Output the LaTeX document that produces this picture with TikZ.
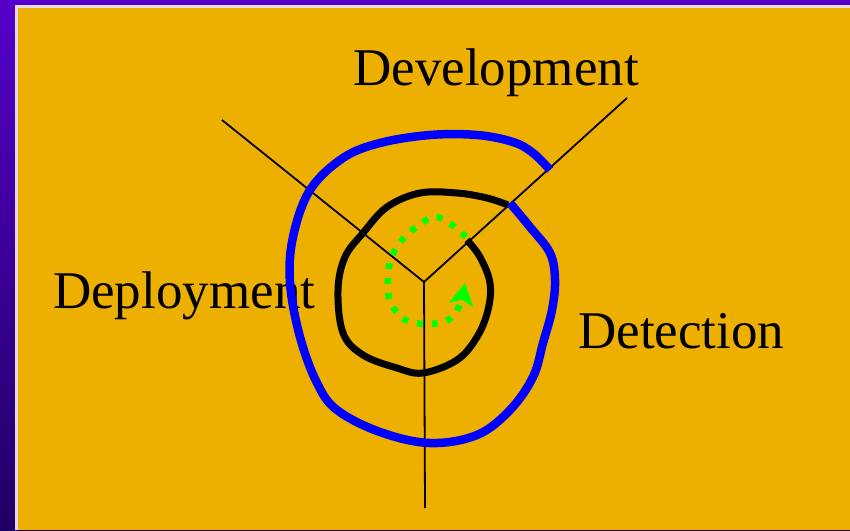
\documentclass[tikz,border=0pt]{standalone}
\usepackage{fontspec}
\setmainfont{Liberation Serif}
\usepackage{tikz}
\usetikzlibrary{arrows.meta}

\definecolor{slidepurple}{RGB}{85,0,200}
\definecolor{slidedark}{RGB}{32,0,100}
\definecolor{slideorange}{RGB}{238,176,0}
\definecolor{loopgreen}{RGB}{0,255,0}
\definecolor{loopblue}{RGB}{0,0,255}

\begin{document}
\begin{tikzpicture}[
    x=1pt, y=-1pt,
    phase/.style={anchor=base west, inner sep=0pt, font=\fontsize{53}{60}\selectfont},
    spoke/.style={draw=black, line width=1.8pt},
    inner loop/.style={draw=loopgreen, line width=6.5pt, dash pattern=on 6pt off 9pt, -{Stealth[length=22pt,width=24pt,inset=5pt]}},
    mid loop/.style={draw=black, line width=7pt, line join=round},
    outer loop/.style={draw=loopblue, line width=8.5pt, line join=round}
]
\useasboundingbox (0,0) rectangle (850,530);

% Slide background
\shade[top color=slidepurple, bottom color=slidedark] (0,0) rectangle (850,530);
\fill[white!85!slidepurple] (15,5) rectangle (850,530);
\fill[slideorange] (17.5,7.5) rectangle (850,530);

% Phase labels
\node[phase] (dev) at (353,85) {Development};
\node[phase] (dep) at (53,308) {Deployment};
\node[phase] (det) at (578,348) {Detection};

% Spokes
\coordinate (hub) at (424,282);
\coordinate (nw) at (222,120);
\coordinate (ne) at (627,98);
\coordinate (s) at (425,508);
\draw[spoke] (hub) -- (nw);
\draw[spoke] (hub) -- (ne);
\draw[spoke] (hub) -- (s);

% Spiral loops
\draw[outer loop] plot[smooth, tension=0.6] coordinates {
    (510,203) (530,227) (550,253) (555,280) (552,310) (543,343) (533,377)
    (510,410) (477,435) (430,443) (380,432) (337,410) (317,383) (300,337)
    (290,283) (293,237) (310,190) (343,158) (380,143) (430,135) (477,135)
    (513,142) (533,153) (550,170)};
\draw[mid loop] plot[smooth, tension=0.6] coordinates {
    (467,240) (480,257) (490,283) (488,310) (477,337) (457,360) (423,373)
    (397,368) (363,355) (343,333) (338,290) (345,257) (363,233) (387,207)
    (420,193) (457,193) (487,198) (508,205)};
\draw[inner loop] plot[smooth, tension=0.6] coordinates {
    (466,237) (452,225) (437,217) (423,222) (402,240) (390,262) (388,290)
    (392,305) (402,318) (416,323) (432,324) (448,320) (459,307) (465,283)};

\end{tikzpicture}
\end{document}
